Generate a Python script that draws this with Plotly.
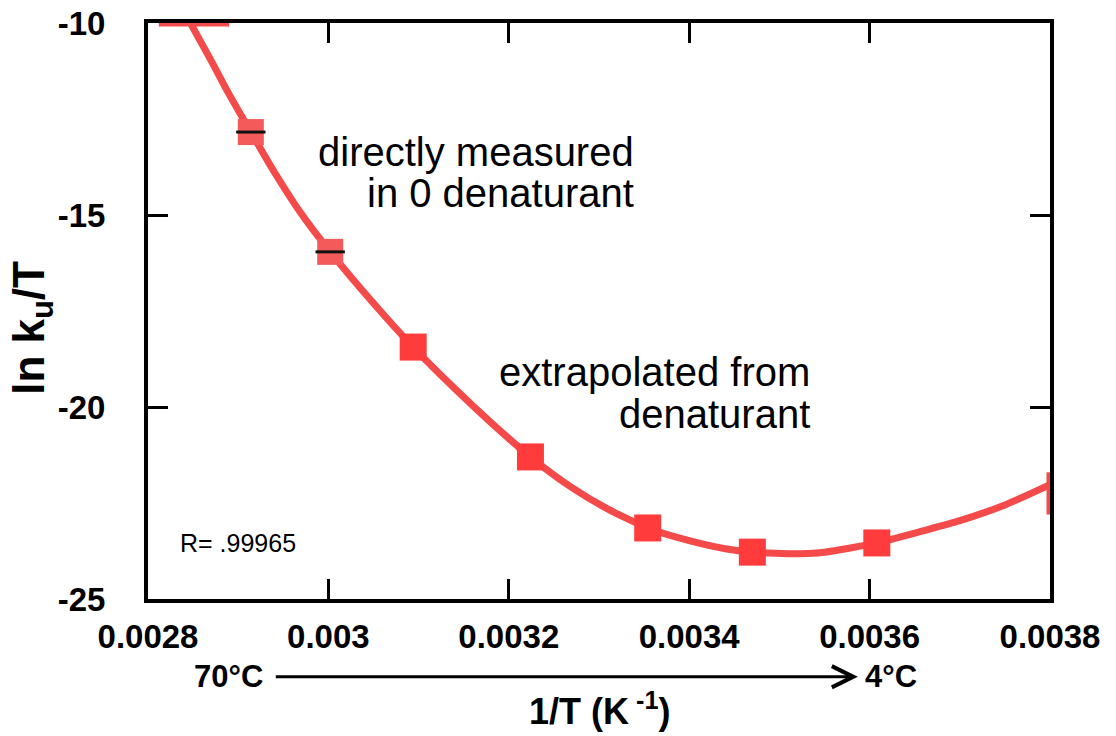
import plotly.graph_objects as go

# Unfolding rate vs inverse temperature (Eyring-type plot)
direct_x = [0.002914, 0.003002]            # measured directly in 0 denaturant
direct_y = [-12.84, -15.96]
extrap_x = [0.003094, 0.003224, 0.003354, 0.003470, 0.003608]   # extrapolated from denaturant
extrap_y = [-18.44, -21.30, -23.15, -23.78, -23.54]

# fitted curve
fit_x = [0.002847, 0.002870, 0.002890, 0.002914, 0.002940, 0.002970, 0.003002,
         0.003050, 0.003094, 0.003140, 0.003180, 0.003224, 0.003270, 0.003310,
         0.003354, 0.003400, 0.003440, 0.003470, 0.003510, 0.003550, 0.003608,
         0.003660, 0.003700, 0.003750, 0.003800]
fit_y = [-10.00, -10.98, -11.86, -12.84, -13.88, -14.97, -15.96,
         -17.30, -18.44, -19.52, -20.40, -21.30, -22.10, -22.66,
         -23.15, -23.48, -23.69, -23.78, -23.82, -23.78, -23.54,
         -23.22, -22.96, -22.55, -22.02]

# parts of the fitted curve pinned to the frame
edge_top_x = [0.002812, 0.002890]
edge_top_y = [-10.0, -10.0]
edge_right_x = [0.0038, 0.0038]
edge_right_y = [-21.70, -22.80]

x_tickvals = [0.0028, 0.0030, 0.0032, 0.0034, 0.0036, 0.0038]
x_ticktext = ["0.0028", "0.003", "0.0032", "0.0034", "0.0036", "0.0038"]
y_tickvals = [-10, -15, -20, -25]
y_ticktext = ["-10", "-15", "-20", "-25"]

RED = "#ff3b3b"
LINE_RED = "#f44a4a"
FONT = "Liberation Sans, Arial, Helvetica, sans-serif"

fig = go.Figure()

fig.add_trace(go.Scatter(x=fit_x, y=fit_y, mode="lines",
                         line=dict(color=LINE_RED, width=7, shape="spline", smoothing=0.6),
                         hoverinfo="skip", showlegend=False))
for ex, ey in ((edge_top_x, edge_top_y), (edge_right_x, edge_right_y)):
    fig.add_trace(go.Scatter(x=ex, y=ey, mode="lines", cliponaxis=False,
                             line=dict(color=LINE_RED, width=7),
                             hoverinfo="skip", showlegend=False))

fig.add_trace(go.Scatter(x=extrap_x, y=extrap_y, mode="markers",
                         marker=dict(symbol="square", size=27, color=RED, line=dict(width=0)),
                         showlegend=False))
fig.add_trace(go.Scatter(x=direct_x, y=direct_y, mode="markers",
                         marker=dict(symbol="square", size=26, color="#f45a5a", line=dict(width=0)),
                         showlegend=False))
fig.add_trace(go.Scatter(x=direct_x, y=direct_y, mode="markers",
                         marker=dict(symbol="line-ew", size=21, line=dict(color="#111111", width=3)),
                         showlegend=False))

fig.update_layout(
    width=1116, height=736,
    margin=dict(l=148, r=66, t=23, b=137),
    paper_bgcolor="white", plot_bgcolor="white",
    font=dict(family=FONT, color="black"),
    showlegend=False,
)

fig.update_xaxes(
    range=[0.0028, 0.0038], tickvals=x_tickvals, ticktext=x_ticktext,
    showgrid=False, zeroline=False, automargin=False,
    showline=True, linecolor="black", linewidth=4, mirror="allticks",
    ticks="inside", ticklen=20, tickwidth=3, tickcolor="black",
    tickfont=dict(family=FONT, size=33, color="black", weight="bold"),
    ticklabelstandoff=5,
    layer="below traces",
)
fig.update_yaxes(
    range=[-25, -10], tickvals=y_tickvals, ticktext=y_ticktext,
    showgrid=False, zeroline=False, automargin=False,
    showline=True, linecolor="black", linewidth=4, mirror="allticks",
    ticks="inside", ticklen=20, tickwidth=3, tickcolor="black",
    tickfont=dict(family=FONT, size=33, color="black", weight="bold"),
    ticklabelstandoff=32,
    layer="below traces",
)

# axis labels
fig.add_annotation(x=-0.128, y=0.47, xref="paper", yref="paper",
                   text="ln k<sub>u</sub>/T", textangle=-90, showarrow=False,
                   xanchor="center", yanchor="middle",
                   font=dict(family=FONT, size=44, color="black", weight="bold"))
fig.add_annotation(x=0.5, y=-0.191, xref="paper", yref="paper",
                   text="1/T (K<sup> -1</sup>)", showarrow=False,
                   xanchor="center", yanchor="middle",
                   font=dict(family=FONT, size=36, color="black", weight="bold"))

note_font = dict(family=FONT, size=40, color="black")
notes = [
    ("directly measured", 0.003341, -13.36),
    ("in 0 denaturant", 0.003341, -14.42),
    ("extrapolated from", 0.003536, -19.09),
    ("denaturant", 0.003536, -20.18),
]
for text, nx, ny in notes:
    fig.add_annotation(x=nx, y=ny, xref="x", yref="y", text=text, showarrow=False,
                       xanchor="right", yanchor="middle", font=note_font)

fig.add_annotation(x=0.002833, y=-23.54, xref="x", yref="y", text="R= .99965",
                   showarrow=False, xanchor="left", yanchor="middle",
                   font=dict(family=FONT, size=25, color="black"))

# temperature direction below the axis
arrow_y = -0.135
fig.add_annotation(x=0.00293, y=arrow_y, xref="x", yref="paper", text="70°C",
                   showarrow=False, xanchor="right", yanchor="middle",
                   font=dict(family=FONT, size=31, color="black", weight="bold"))
fig.add_annotation(x=0.003593, y=arrow_y, xref="x", yref="paper", text="4°C",
                   showarrow=False, xanchor="left", yanchor="middle",
                   font=dict(family=FONT, size=31, color="black", weight="bold"))
fig.add_annotation(x=0.003587, y=arrow_y, xref="x", yref="paper",
                   ax=0.00294, ay=0, axref="x", ayref="pixel",
                   text="", showarrow=True, arrowhead=5, arrowsize=1.4,
                   arrowwidth=3, arrowcolor="black")

fig.write_html("out.html")
